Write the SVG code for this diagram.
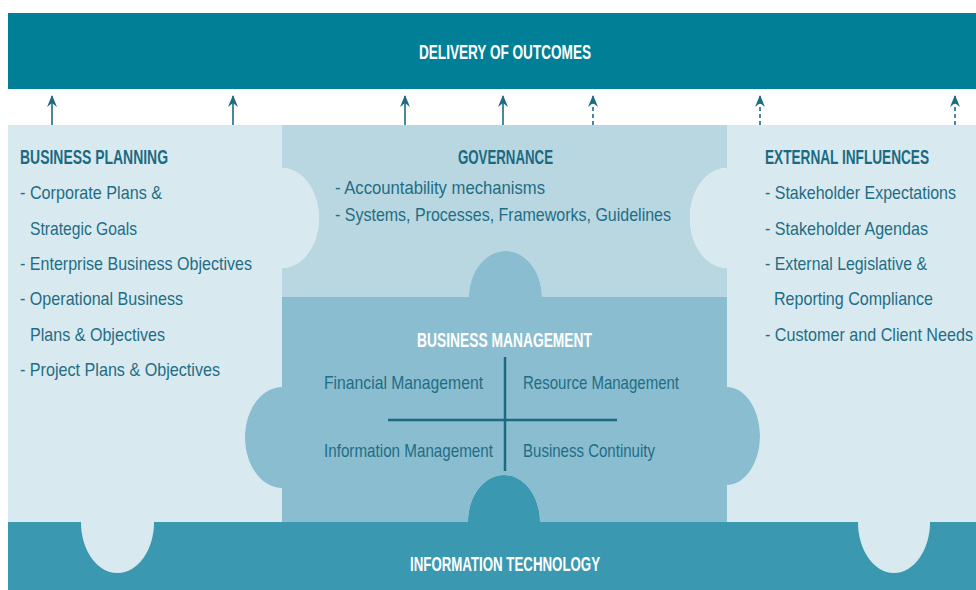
<svg xmlns="http://www.w3.org/2000/svg" width="976" height="590" viewBox="0 0 976 590">
  <style>
    .hdr { font-family: "Liberation Sans", Arial, sans-serif; font-weight: bold; font-size: 20px; fill: #1b6a82; }
    .hdr-w { font-family: "Liberation Sans", Arial, sans-serif; font-weight: bold; font-size: 20px; fill: #ffffff; }
    .item { font-family: "Liberation Sans", Arial, sans-serif; font-size: 19px; fill: #1f6d85; }
    .panel { fill: #d8eaf0; }
    .gov { fill: #b8d7e1; }
    .bm { fill: #8bbdd0; }
    .it { fill: #3a99b0; }
    .top { fill: #007f96; }
    .arrow { stroke: #1d6a82; stroke-width: 1.6; fill: none; marker-end: url(#head); }
    .dashed { stroke-dasharray: 4 3; }
    .divider { stroke: #1b6a82; stroke-width: 2.5; }
  </style>
  <defs>
    <marker id="head" viewBox="0 0 12 10" refX="11" refY="5" markerWidth="12" markerHeight="10" markerUnits="userSpaceOnUse" orient="auto">
      <path d="M12,5 L0,0 L4,5 L0,10 Z" fill="#1d6a82"/>
    </marker>
  </defs>

  <rect width="976" height="590" fill="#ffffff"/>

  <!-- Top band -->
  <g id="delivery">
    <rect class="top" x="8" y="13" width="968" height="76"/>
    <text class="hdr-w" x="419" y="59" textLength="172" lengthAdjust="spacingAndGlyphs">DELIVERY OF OUTCOMES</text>
  </g>

  <!-- Left puzzle piece -->
  <g id="business-planning">
    <path class="panel" d="M8,125 H282 V168 C302.4,168 319,190.4 319,218 C319,245.6 302.4,268 282,268 V387 C261.6,387 245,409.6 245,437.5 C245,465.4 261.6,488 282,488 V522 H154 C154,550 138,573 117.5,573 C97,573 81,550 81,522 H8 Z"/>
    <text class="hdr" x="20" y="164" textLength="148" lengthAdjust="spacingAndGlyphs">BUSINESS PLANNING</text>
    <text class="item" x="20" y="199" textLength="142" lengthAdjust="spacingAndGlyphs">- Corporate Plans &amp;</text>
    <text class="item" x="30" y="235" textLength="107" lengthAdjust="spacingAndGlyphs">Strategic Goals</text>
    <text class="item" x="20" y="270" textLength="232" lengthAdjust="spacingAndGlyphs">- Enterprise Business Objectives</text>
    <text class="item" x="20" y="305" textLength="163" lengthAdjust="spacingAndGlyphs">- Operational Business</text>
    <text class="item" x="30" y="341" textLength="135" lengthAdjust="spacingAndGlyphs">Plans &amp; Objectives</text>
    <text class="item" x="20" y="376" textLength="200" lengthAdjust="spacingAndGlyphs">- Project Plans &amp; Objectives</text>
  </g>

  <!-- Centre top piece -->
  <g id="governance">
    <path class="gov" d="M282,125 H727 V168 C706.6,168 690,190.4 690,218 C690,245.6 706.6,268 727,268 V297 H542 C542,271.6 525.6,251 505.5,251 C485.4,251 469,271.6 469,297 H282 V268 C302.4,268 319,245.6 319,218 C319,190.4 302.4,168 282,168 Z"/>
    <text class="hdr" x="458" y="164" textLength="95" lengthAdjust="spacingAndGlyphs">GOVERNANCE</text>
    <text class="item" x="335" y="194" textLength="210" lengthAdjust="spacingAndGlyphs">- Accountability mechanisms</text>
    <text class="item" x="335" y="221" textLength="336" lengthAdjust="spacingAndGlyphs">- Systems, Processes, Frameworks, Guidelines</text>
  </g>

  <!-- Right puzzle piece -->
  <g id="external-influences">
    <path class="panel" d="M727,125 H976 V522 H930 C930,550 914,573 894,573 C874,573 858,550 858,522 H727 V485 C745.2,485 760,463 760,436 C760,409 745.2,387 727,387 V268 C706.6,268 690,245.6 690,218 C690,190.4 706.6,168 727,168 Z"/>
    <text class="hdr" x="765" y="164" textLength="164" lengthAdjust="spacingAndGlyphs">EXTERNAL INFLUENCES</text>
    <text class="item" x="765" y="199" textLength="191" lengthAdjust="spacingAndGlyphs">- Stakeholder Expectations</text>
    <text class="item" x="765" y="235" textLength="163" lengthAdjust="spacingAndGlyphs">- Stakeholder Agendas</text>
    <text class="item" x="765" y="270" textLength="162" lengthAdjust="spacingAndGlyphs">- External Legislative &amp;</text>
    <text class="item" x="774" y="305" textLength="159" lengthAdjust="spacingAndGlyphs">Reporting Compliance</text>
    <text class="item" x="765" y="341" textLength="208" lengthAdjust="spacingAndGlyphs">- Customer and Client Needs</text>
  </g>

  <!-- Centre lower piece -->
  <g id="business-management">
    <path class="bm" d="M282,297 H469 C469,271.6 485.4,251 505.5,251 C525.6,251 542,271.6 542,297 H727 V387 C745.2,387 760,409 760,436 C760,463 745.2,485 727,485 V522 H540 C540,496 524,475 504,475 C484,475 468,496 468,522 H282 V488 C261.6,488 245,465.4 245,437.5 C245,409.6 261.6,387 282,387 Z"/>
    <text class="hdr-w" x="417" y="347" textLength="175" lengthAdjust="spacingAndGlyphs">BUSINESS MANAGEMENT</text>
    <line class="divider" x1="505" y1="357" x2="505" y2="471"/>
    <line class="divider" x1="388" y1="420" x2="617" y2="420"/>
    <text class="item" x="324" y="389" textLength="159" lengthAdjust="spacingAndGlyphs">Financial  Management</text>
    <text class="item" x="523" y="389" textLength="156" lengthAdjust="spacingAndGlyphs">Resource Management</text>
    <text class="item" x="324" y="457" textLength="169" lengthAdjust="spacingAndGlyphs">Information Management</text>
    <text class="item" x="523" y="457" textLength="132" lengthAdjust="spacingAndGlyphs">Business Continuity</text>
  </g>

  <!-- Bottom band -->
  <g id="information-technology">
    <path class="it" d="M8,522 H81 C81,550 97,573 117.5,573 C138,573 154,550 154,522 H468 C468,496 484,475 504,475 C524,475 540,496 540,522 H858 C858,550 874,573 894,573 C914,573 930,550 930,522 H976 V590 H8 Z"/>
    <text class="hdr-w" x="410" y="571" textLength="190" lengthAdjust="spacingAndGlyphs">INFORMATION TECHNOLOGY</text>
  </g>

  <!-- Upward arrows into the delivery band -->
  <g id="connectors">
    <line class="arrow" x1="52" y1="125" x2="52" y2="96"/>
    <line class="arrow" x1="233" y1="125" x2="233" y2="96"/>
    <line class="arrow" x1="405" y1="125" x2="405" y2="96"/>
    <line class="arrow" x1="503" y1="125" x2="503" y2="96"/>
    <line class="arrow dashed" x1="593" y1="125" x2="593" y2="96"/>
    <line class="arrow dashed" x1="760" y1="125" x2="760" y2="96"/>
    <line class="arrow dashed" x1="955" y1="125" x2="955" y2="96"/>
  </g>
</svg>
